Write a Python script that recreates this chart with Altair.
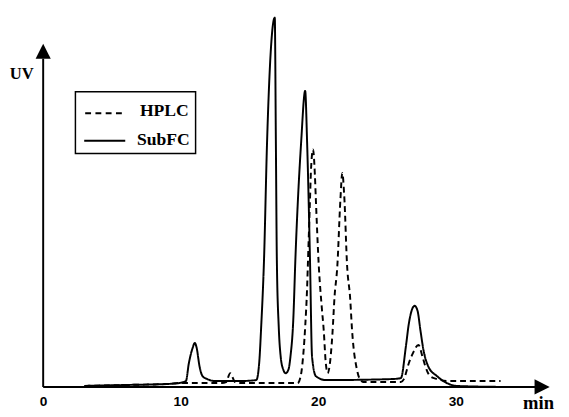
import altair as alt
import pandas as pd

# ---- data (time in min, UV signal in arbitrary units) ----
series_names = ["HPLC", "SubFC"]
x_ticks = [0, 10, 20, 30]

hplc_t = [3.0, 6.0, 9.0, 10.0, 13.0, 13.3, 13.6, 13.95, 14.3, 18.5, 18.62, 18.83, 19.05, 19.19,
          19.26, 19.40, 19.47, 19.62, 19.76, 19.83, 20.04, 20.26, 20.40, 20.54, 20.68, 20.82,
          21.04, 21.18, 21.39, 21.61, 21.75, 21.89, 22.10, 22.32, 22.46, 22.81, 23.03, 23.31,
          26.0, 26.23, 26.58, 26.87, 27.29, 27.58, 27.79, 28.14, 28.64, 29.5, 33.26]
hplc_v = [1, 2, 3, 4, 4, 5, 14, 5, 4, 4, 6, 21, 61, 101,
          131, 191, 221, 243, 216, 191, 124, 81, 58, 26, 14, 21,
          56, 91, 124, 191, 219, 196, 124, 91, 58, 18, 8, 5,
          5, 8, 24, 34, 43, 31, 21, 11, 8, 6, 6]

subfc_t = [3.0, 6.1, 9.0, 9.9, 10.38, 10.59, 10.87, 11.02, 11.16, 11.37, 11.59, 11.94, 12.5,
           14.3, 15.5, 15.71, 15.85, 16.06, 16.28, 16.84, 16.92, 16.99, 17.13, 17.27, 17.45,
           17.63, 17.84, 17.98, 18.19, 18.34, 18.76, 19.05, 19.19, 19.40, 19.55, 19.83, 20.54,
           25.3, 26.01, 26.37, 26.58, 26.87, 27.01, 27.22, 27.43, 27.65, 28.0, 28.64, 29.35,
           30.06, 33.26]
subfc_v = [1, 2, 3, 4, 6, 24, 40, 45, 40, 21, 11, 8, 6,
           6, 7, 25, 61, 131, 251, 378, 251, 131, 61, 31, 18,
           14, 18, 31, 70, 131, 251, 303, 251, 131, 31, 11, 7,
           8, 9, 41, 64, 81, 83, 78, 58, 38, 21, 11, 4,
           1, 0]

X_MAX = 36.8
Y_MAX = 378
x_axis_end = 35.82
x_arrow_at = 36.28
y_axis_end = 336
y_arrow_at = 343.5

df = pd.concat([
    pd.DataFrame({"t": hplc_t, "v": hplc_v, "series": series_names[0]}),
    pd.DataFrame({"t": subfc_t, "v": subfc_v, "series": series_names[1]}),
])

xscale = alt.Scale(domain=[0, X_MAX], nice=False, zero=False)
yscale = alt.Scale(domain=[0, Y_MAX], nice=False, zero=False)
SERIF = "Liberation Serif"

x_axis_def = alt.Axis(values=x_ticks, domain=False, ticks=False, grid=False,
                      labelFont="Liberation Sans", labelFontWeight="bold",
                      labelFontSize=14, labelColor="black", labelPadding=8,
                      labelFlush=False, labelAngle=0, title=None)
y_axis_def = alt.Axis(domain=False, ticks=False, grid=False, labels=False, title=None)


def X(field):
    return alt.X(field, type="quantitative", scale=xscale, axis=x_axis_def)


def Y(field):
    return alt.Y(field, type="quantitative", scale=yscale, axis=y_axis_def)


lines = alt.Chart(df).mark_line(color="black", strokeWidth=2, interpolate="monotone").encode(
    x=X("t"),
    y=Y("v"),
    detail="series:N",
    strokeDash=alt.StrokeDash("series:N", scale=alt.Scale(domain=series_names, range=[[6, 4], [1, 0]]),
                              legend=None),
)

y_axis = alt.Chart(pd.DataFrame({"x": [0], "y": [0], "y2": [y_axis_end]})).mark_rule(
    color="black", strokeWidth=2).encode(x=X("x"), y=Y("y"), y2="y2:Q")
x_axis = alt.Chart(pd.DataFrame({"x": [0], "x2": [x_axis_end], "y": [0]})).mark_rule(
    color="black", strokeWidth=2).encode(x=X("x"), x2="x2:Q", y=Y("y"))
y_arrow = alt.Chart(pd.DataFrame({"x": [0], "y": [y_arrow_at]})).mark_point(
    shape="M0,-1L1,1L-1,1Z", filled=True, size=240, color="black", opacity=1).encode(x=X("x"), y=Y("y"))
x_arrow = alt.Chart(pd.DataFrame({"x": [x_arrow_at], "y": [0]})).mark_point(
    shape="M1,0L-1,-1L-1,1Z", filled=True, size=240, color="black", opacity=1).encode(x=X("x"), y=Y("y"))

one = pd.DataFrame({"k": [0]})
uv_label = alt.Chart(one).mark_text(font=SERIF, fontWeight="bold", fontSize=17, align="center",
                                    baseline="middle", color="black").encode(
    x=alt.value(-22), y=alt.value(58), text=alt.value("UV"))
min_label = alt.Chart(one).mark_text(font=SERIF, fontWeight="bold", fontSize=19, align="center",
                                     baseline="alphabetic", color="black").encode(
    x=alt.value(507), y=alt.value(401), text=alt.value("min"))

legend_box = alt.Chart(one).mark_rect(fill="white", stroke="black", strokeWidth=1.5).encode(
    x=alt.value(33), x2=alt.value(156), y=alt.value(76), y2=alt.value(139))
legend_dash = alt.Chart(one).mark_rule(color="black", strokeWidth=2, strokeDash=[6, 4.5]).encode(
    x=alt.value(43), x2=alt.value(84), y=alt.value(98))
legend_solid = alt.Chart(one).mark_rule(color="black", strokeWidth=2).encode(
    x=alt.value(42), x2=alt.value(84), y=alt.value(126))
legend_t1 = alt.Chart(one).mark_text(font=SERIF, fontWeight="bold", fontSize=18, align="right",
                                     baseline="middle", color="black").encode(
    x=alt.value(149), y=alt.value(96), text=alt.value(series_names[0]))
legend_t2 = alt.Chart(one).mark_text(font=SERIF, fontWeight="bold", fontSize=18, align="right",
                                     baseline="middle", color="black").encode(
    x=alt.value(150), y=alt.value(125), text=alt.value(series_names[1]))

chart = alt.layer(
    lines, y_axis, x_axis, y_arrow, x_arrow, uv_label, min_label,
    legend_box, legend_dash, legend_solid, legend_t1, legend_t2,
).properties(
    width=518, height=378,
    autosize=alt.AutoSizeParams(type="none"),
    padding={"left": 36, "top": 5, "right": 12, "bottom": 27},
    background="white",
).configure_view(stroke=None)

chart.save("out.html", embed_options={"renderer": "svg", "actions": False})
